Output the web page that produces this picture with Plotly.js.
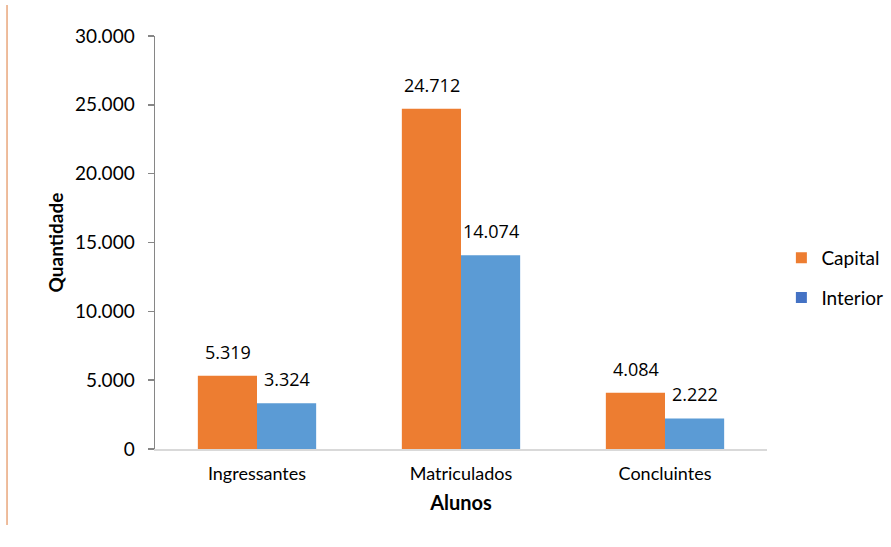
<!DOCTYPE html>
<html>
<head>
<meta charset="utf-8">
<script src="https://cdn.plot.ly/plotly-3.0.1.min.js"></script>
<style>
html,body{margin:0;padding:0;background:#fff;}
#chart{width:891px;height:547px;}
</style>
</head>
<body>
<div id="chart"></div>
<script>
var categories = ["Ingressantes", "Matriculados", "Concluintes"];
var seriesNames = ["Capital", "Interior"];
var capital = [5319, 24712, 4084];
var interior = [3324, 14074, 2222];
var yTicks = [0, 5000, 10000, 15000, 20000, 25000, 30000];

var barColors = ["#ED7D31", "#5B9BD5"];
var legendColors = ["#ED7D31", "#4472C4"];
var axisFont = "Lato, 'Open Sans', sans-serif";
var labelFont = "'Open Sans', Lato, sans-serif";

var seriesValues = [capital, interior];
var traces = [];
seriesValues.forEach(function (vals, i) {
  traces.push({
    type: "bar",
    name: seriesNames[i],
    x: categories,
    y: vals,
    marker: { color: barColors[i] },
    showlegend: false,
    hoverinfo: "x+y+name"
  });
});
seriesValues.forEach(function (vals, i) {
  traces.push({
    type: "scatter",
    mode: "markers",
    name: seriesNames[i],
    x: [null],
    y: [null],
    legendgroup: "g" + i,
    marker: { symbol: "square", size: 11, color: legendColors[i] },
    showlegend: true
  });
});

var annotations = [];
var halfBar = 29.5;
seriesValues.forEach(function (vals, i) {
  vals.forEach(function (v, j) {
    annotations.push({
      x: categories[j],
      y: v,
      xref: "x",
      yref: "y",
      text: v.toLocaleString("de-DE"),
      showarrow: false,
      xanchor: "center",
      yanchor: "bottom",
      xshift: i === 0 ? -halfBar : halfBar,
      yshift: 10,
      font: { family: labelFont, size: 18, color: "#000" }
    });
  });
});

var layout = {
  width: 891,
  height: 547,
  margin: { l: 155, r: 124, t: 36, b: 98, autoexpand: false },
  paper_bgcolor: "#fff",
  plot_bgcolor: "#fff",
  separators: ",.",
  barmode: "group",
  bargap: 0.42,
  bargroupgap: 0,
  xaxis: {
    type: "category",
    showline: true,
    linecolor: "#D9D9D9",
    linewidth: 2,
    ticks: "",
    showgrid: false,
    ticklabelstandoff: 7,
    tickfont: { family: axisFont, size: 18, color: "#000" },
    title: { text: "<b>Alunos</b>", font: { family: axisFont, size: 20, color: "#000" }, standoff: 13 }
  },
  yaxis: {
    range: [0, 30000],
    tickvals: yTicks,
    tickformat: ",d",
    showline: true,
    linecolor: "#868686",
    linewidth: 1.5,
    ticks: "outside",
    ticklen: 6,
    tickcolor: "#868686",
    tickwidth: 1.5,
    showgrid: false,
    zeroline: false,
    ticklabelstandoff: 9,
    tickfont: { family: axisFont, size: 19, color: "#000" },
    title: { text: "<b>Quantidade</b>", font: { family: axisFont, size: 19, color: "#000" }, standoff: 6 }
  },
  legend: {
    x: 1.0235,
    xanchor: "left",
    y: 0.414,
    yanchor: "middle",
    tracegroupgap: 12,
    font: { family: axisFont, size: 19, color: "#000" },
    bgcolor: "rgba(0,0,0,0)"
  },
  annotations: annotations,
  shapes: [{
    type: "line",
    xref: "paper",
    yref: "paper",
    x0: -0.2418, x1: -0.2418,
    y0: -0.184, y1: 1.075,
    line: { color: "#DD7A3A", width: 1 }
  }]
};

Plotly.newPlot("chart", traces, layout, { displayModeBar: false, staticPlot: true });
</script>
</body>
</html>
